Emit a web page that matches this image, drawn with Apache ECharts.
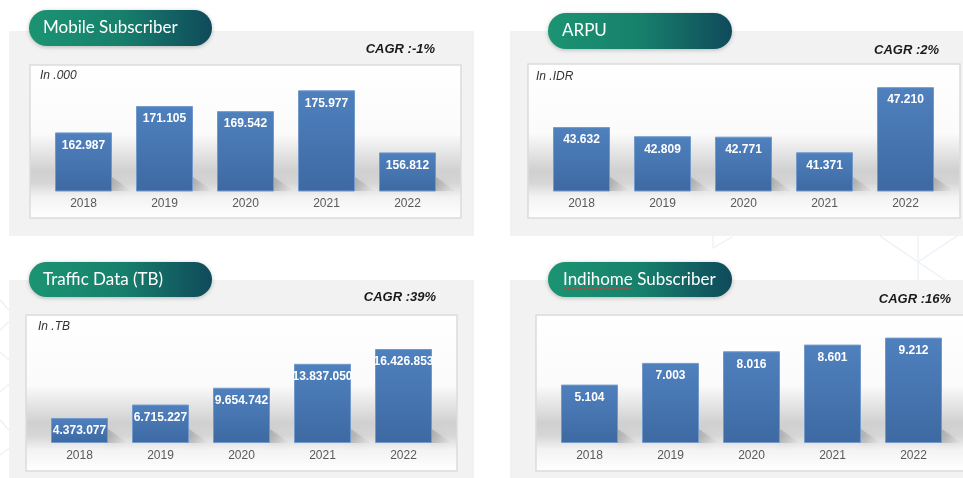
<!DOCTYPE html>
<html><head><meta charset="utf-8">
<script src="https://cdn.jsdelivr.net/npm/echarts@6/dist/echarts.min.js"></script>
<style>html,body{margin:0;padding:0;background:#fff;}#c{width:963px;height:478px;}</style>
</head><body><div id="c"></div>
<script>
const years = ['2018','2019','2020','2021','2022'];
const mobileSubscriber = [162987,171105,169542,175977,156812];
const arpu = [43632,42809,42771,41371,47210];
const trafficData = [4373077,6715227,9654742,13837050,16426853];
const indihomeSubscriber = [5104,7003,8016,8601,9212];
const panelTitles = ['Mobile Subscriber','ARPU','Traffic Data (TB)','Indihome Subscriber'];
const cagrLabels = ['CAGR :-1%','CAGR :2%','CAGR :39%','CAGR :16%'];
const unitLabels = ['In .000','In .IDR','In .TB',''];
const axisRanges = [[144900,180700],[37900,48300],[0,18000000],[0,10000]];

const layouts = [
 {grid:{left:43, top:75, width:405, height:116}, panel:[9,31,465,205], pill:[29,10,183,36], titleX:43, cagr:[435,49], box:[30,65,431,153], unit:[40,76]},
 {grid:{left:541, top:75, width:405, height:116}, panel:[510,31,453,205], pill:[548,13,184,36], titleX:562, cagr:[939,50], box:[528,64,432,154], unit:[536,77]},
 {grid:{left:39, top:340, width:405, height:103}, panel:[9,280,465,198], pill:[29,262,183,35], titleX:43, cagr:[436,297], box:[26,315,431,156], unit:[38,327]},
 {grid:{left:549, top:328.6, width:405, height:114.4}, panel:[510,280,453,198], pill:[548,262,184,35], titleX:563, cagr:[951,299], box:[536,315,440,156], unit:null}
];
const seriesData = [mobileSubscriber, arpu, trafficData, indihomeSubscriber];

const fmt = v => String(v).replace(/\B(?=(\d{3})+(?!\d))/g,'.');
const BAR_W = 57;

const graphics = [];
// faint decorative lines
const deco = [
  [[0,300],[9,310]], [[0,330],[9,322]], [[0,352],[9,360]], [[0,392],[9,384]], [[0,420],[9,430]], [[0,455],[9,448]],
  [[713,236],[713,248],[732,237]], [[880,236],[918,262],[957,236]], [[918,236],[918,280]], [[918,262],[945,280]]
];
deco.forEach(pts => graphics.push({type:'polyline', z:-20, silent:true, shape:{points:pts}, style:{stroke:'#e9f1f7', lineWidth:1.2, fill:null}}));

layouts.forEach((L,i) => {
  const [px,py,pw,ph] = L.panel;
  graphics.push({type:'rect', z:-10, silent:true, shape:{x:px,y:py,width:pw,height:ph}, style:{fill:'#f2f2f2'}});
  const [bx,by,bw,bh] = L.box;
  graphics.push({type:'rect', z:-9, silent:true, shape:{x:bx,y:by,width:bw,height:bh},
    style:{stroke:'#dcdcdc', lineWidth:1.5, fill:{type:'linear',x:0,y:0,x2:0,y2:1,colorStops:[
      {offset:0,color:'#ffffff'},{offset:0.45,color:'#fbfbfb'},{offset:0.69,color:'#d0d0d0'},
      {offset:0.77,color:'#d6d6d6'},{offset:0.86,color:'#f3f3f3'},{offset:1,color:'#ffffff'}]}}});
  const [qx,qy,qw,qh] = L.pill;
  graphics.push({type:'rect', z:5, silent:true, shape:{x:qx,y:qy,width:qw,height:qh,r:qh/2},
    style:{fill:{type:'linear',x:0,y:0,x2:1,y2:0,colorStops:[{offset:0,color:'#1b9472'},{offset:0.5,color:'#17806c'},{offset:1,color:'#0f4a5b'}]},
      shadowBlur:4, shadowColor:'rgba(0,0,0,0.25)', shadowOffsetY:1}});
  graphics.push({type:'text', z:6, silent:true, style:{text:panelTitles[i], x:L.titleX, y:qy+qh/2, fill:'#ffffff',
    fontSize:17, fontFamily:'Lato, "Open Sans", sans-serif', align:'left', verticalAlign:'middle'}});
  graphics.push({type:'text', z:6, silent:true, style:{text:cagrLabels[i], x:L.cagr[0], y:L.cagr[1], fill:'#1a1a1a',
    fontSize:13, fontWeight:'bold', fontStyle:'italic', fontFamily:'"Liberation Sans", Arial, sans-serif', align:'right', verticalAlign:'middle'}});
  if (L.unit && unitLabels[i]) {
    graphics.push({type:'text', z:6, silent:true, style:{text:unitLabels[i], x:L.unit[0], y:L.unit[1], fill:'#333333',
      fontSize:12, fontStyle:'italic', fontFamily:'"Liberation Sans", Arial, sans-serif', align:'left', verticalAlign:'middle'}});
  }
});
// spell-check squiggle under "Indihome"
const sq = [];
for (let x = 563, k = 0; x <= 632; x += 2, k++) sq.push([x, 288 + (k % 2 ? 1.2 : -0.6)]);
graphics.push({type:'polyline', z:7, silent:true, shape:{points:sq}, style:{stroke:'#d83b3b', lineWidth:0.9, fill:null}});

const grids = [], xAxes = [], yAxes = [], series = [];
layouts.forEach((L,i) => {
  grids.push(L.grid);
  xAxes.push({type:'category', gridIndex:i, data:years, axisLine:{show:false}, axisTick:{show:false},
    axisLabel:{color:'#595959', fontSize:12, fontFamily:'"Liberation Sans", Arial, sans-serif', margin:7}});
  yAxes.push({type:'value', gridIndex:i, min:axisRanges[i][0], max:axisRanges[i][1], show:false, splitLine:{show:false}});
  const yMin = axisRanges[i][0];
  series.push({type:'custom', xAxisIndex:i, yAxisIndex:i, z:1, silent:true,
    data: seriesData[i].map((v,j)=>[j,v]),
    renderItem:(params, api) => {
      const c = api.coord([api.value(0), yMin]);
      const xr = c[0] + BAR_W/2, yb = c[1];
      return {type:'polygon', shape:{points:[[xr,yb],[xr,yb-14],[xr+17,yb-2],[xr+19,yb]]},
        style:{fill:{type:'linear',x:0,y:0,x2:1,y2:0,colorStops:[{offset:0,color:'rgba(90,90,90,0.28)'},{offset:1,color:'rgba(140,140,140,0.03)'}]},
          shadowBlur:9, shadowColor:'rgba(0,0,0,0.28)'}};
    }});
  series.push({type:'bar', xAxisIndex:i, yAxisIndex:i, z:2, data:seriesData[i], barWidth:BAR_W,
    itemStyle:{color:{type:'linear',x:0,y:0,x2:0,y2:1,colorStops:[{offset:0,color:'#4f81be'},{offset:1,color:'#3e69a2'}]},
      borderColor:'#7299cc', borderWidth:1},
    label:{show:true, position:'insideTop', distance:7, color:'#ffffff', fontSize:12, fontWeight:'bold',
      fontFamily:'"Liberation Sans", Arial, sans-serif', formatter:p=>fmt(p.value),
      width:62, overflow:'truncate', ellipsis:''}});
});

const chart = echarts.init(document.getElementById('c'));
chart.setOption({animation:false, backgroundColor:'#ffffff', grid:grids, xAxis:xAxes, yAxis:yAxes, series:series, graphic:{elements:graphics}});
</script></body></html>
